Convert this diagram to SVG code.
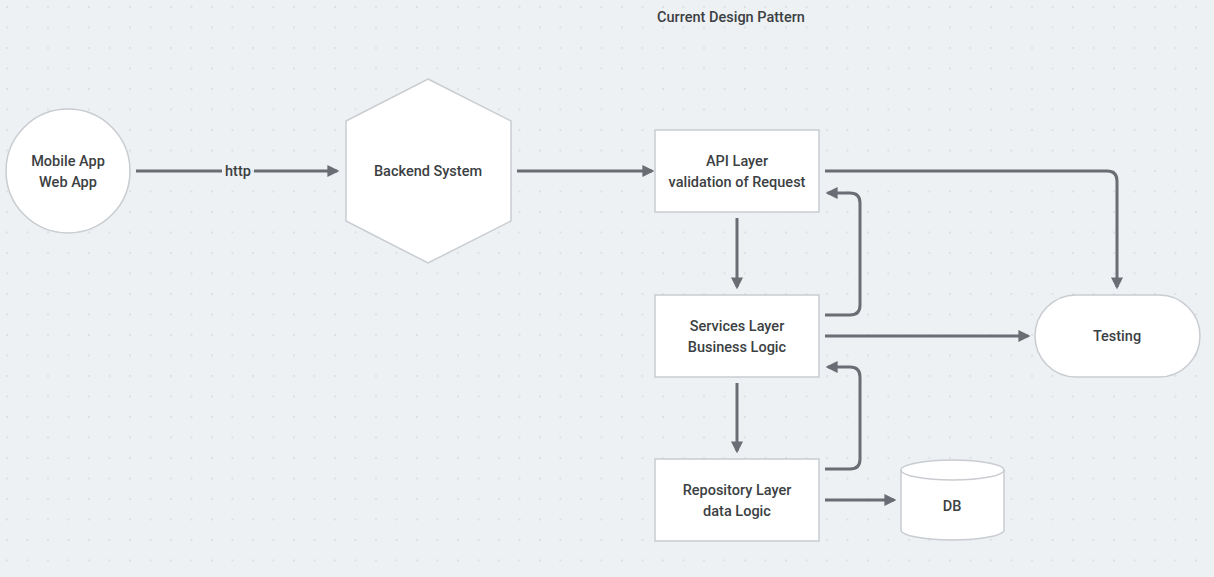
<svg xmlns="http://www.w3.org/2000/svg" width="1214" height="577" viewBox="0 0 1214 577">
<defs>
<pattern id="dots" x="6" y="6" width="20.5" height="20.5" patternUnits="userSpaceOnUse">
<circle cx="1" cy="1" r="0.9" fill="#d5dadf"/>
</pattern>
<marker id="ah" viewBox="0 0 10 10" refX="8" refY="5" markerWidth="4" markerHeight="4" orient="auto" markerUnits="strokeWidth">
<path d="M0,0 L10,5 L0,10 z" fill="#6a6e74"/>
</marker>
<style>
.node{fill:#ffffff;stroke:#c9ccd0;stroke-width:1.5}
.lbl{font-family:Roboto,"Liberation Sans",sans-serif;font-size:14.5px;fill:#3c3f43;text-anchor:middle;font-weight:500}
.con{fill:none;stroke:#6a6e74;stroke-width:3;stroke-linejoin:round}
</style>
</defs>
<rect width="1214" height="577" fill="#edf1f4"/>
<rect width="1214" height="577" fill="url(#dots)"/>
<text class="lbl" x="731" y="22" style="font-size:14.5px">Current Design Pattern</text>

<g id="connectors">
<path class="con" d="M136,171 H222" />
<path class="con" d="M254,171 H337" marker-end="url(#ah)"/>
<text class="lbl" x="238" y="176">http</text>
<path class="con" d="M517,171 H652" marker-end="url(#ah)"/>
<path class="con" d="M737,218 V287" marker-end="url(#ah)"/>
<path class="con" d="M737,383 V451" marker-end="url(#ah)"/>
<path class="con" d="M825,315 H850 Q860,315 860,305 V203 Q860,193 850,193 H828" marker-end="url(#ah)"/>
<path class="con" d="M825,469 H850 Q860,469 860,459 V377 Q860,367 850,367 H828" marker-end="url(#ah)"/>
<path class="con" d="M825,171 H1107 Q1117,171 1117,181 V287" marker-end="url(#ah)"/>
<path class="con" d="M825,336 H1028" marker-end="url(#ah)"/>
<path class="con" d="M825,500 H894" marker-end="url(#ah)"/>
</g>

<g id="client">
<circle class="node" cx="68" cy="171" r="62"/>
<text class="lbl" x="68" y="166">Mobile App</text>
<text class="lbl" x="68" y="187">Web App</text>
</g>

<g id="backend">
<polygon class="node" points="428,79 511,121 511,221 428,263 346,221 346,121"/>
<text class="lbl" x="428" y="176">Backend System</text>
</g>

<g id="api">
<rect class="node" x="655" y="130" width="164" height="82"/>
<text class="lbl" x="737" y="166">API Layer</text>
<text class="lbl" x="737" y="187">validation of Request</text>
</g>

<g id="services">
<rect class="node" x="655" y="295" width="164" height="82"/>
<text class="lbl" x="737" y="331">Services Layer</text>
<text class="lbl" x="737" y="352">Business Logic</text>
</g>

<g id="repository">
<rect class="node" x="655" y="459" width="164" height="82"/>
<text class="lbl" x="737" y="495">Repository Layer</text>
<text class="lbl" x="737" y="516">data Logic</text>
</g>

<g id="testing">
<rect class="node" x="1035" y="295" width="165" height="82" rx="41" ry="41"/>
<text class="lbl" x="1117" y="341">Testing</text>
</g>

<g id="db">
<path class="node" d="M901,470 V530 A51.5,10 0 0 0 1004,530 V470"/>
<ellipse class="node" cx="952.5" cy="470" rx="51.5" ry="10"/>
<text class="lbl" x="952" y="511">DB</text>
</g>
</svg>
